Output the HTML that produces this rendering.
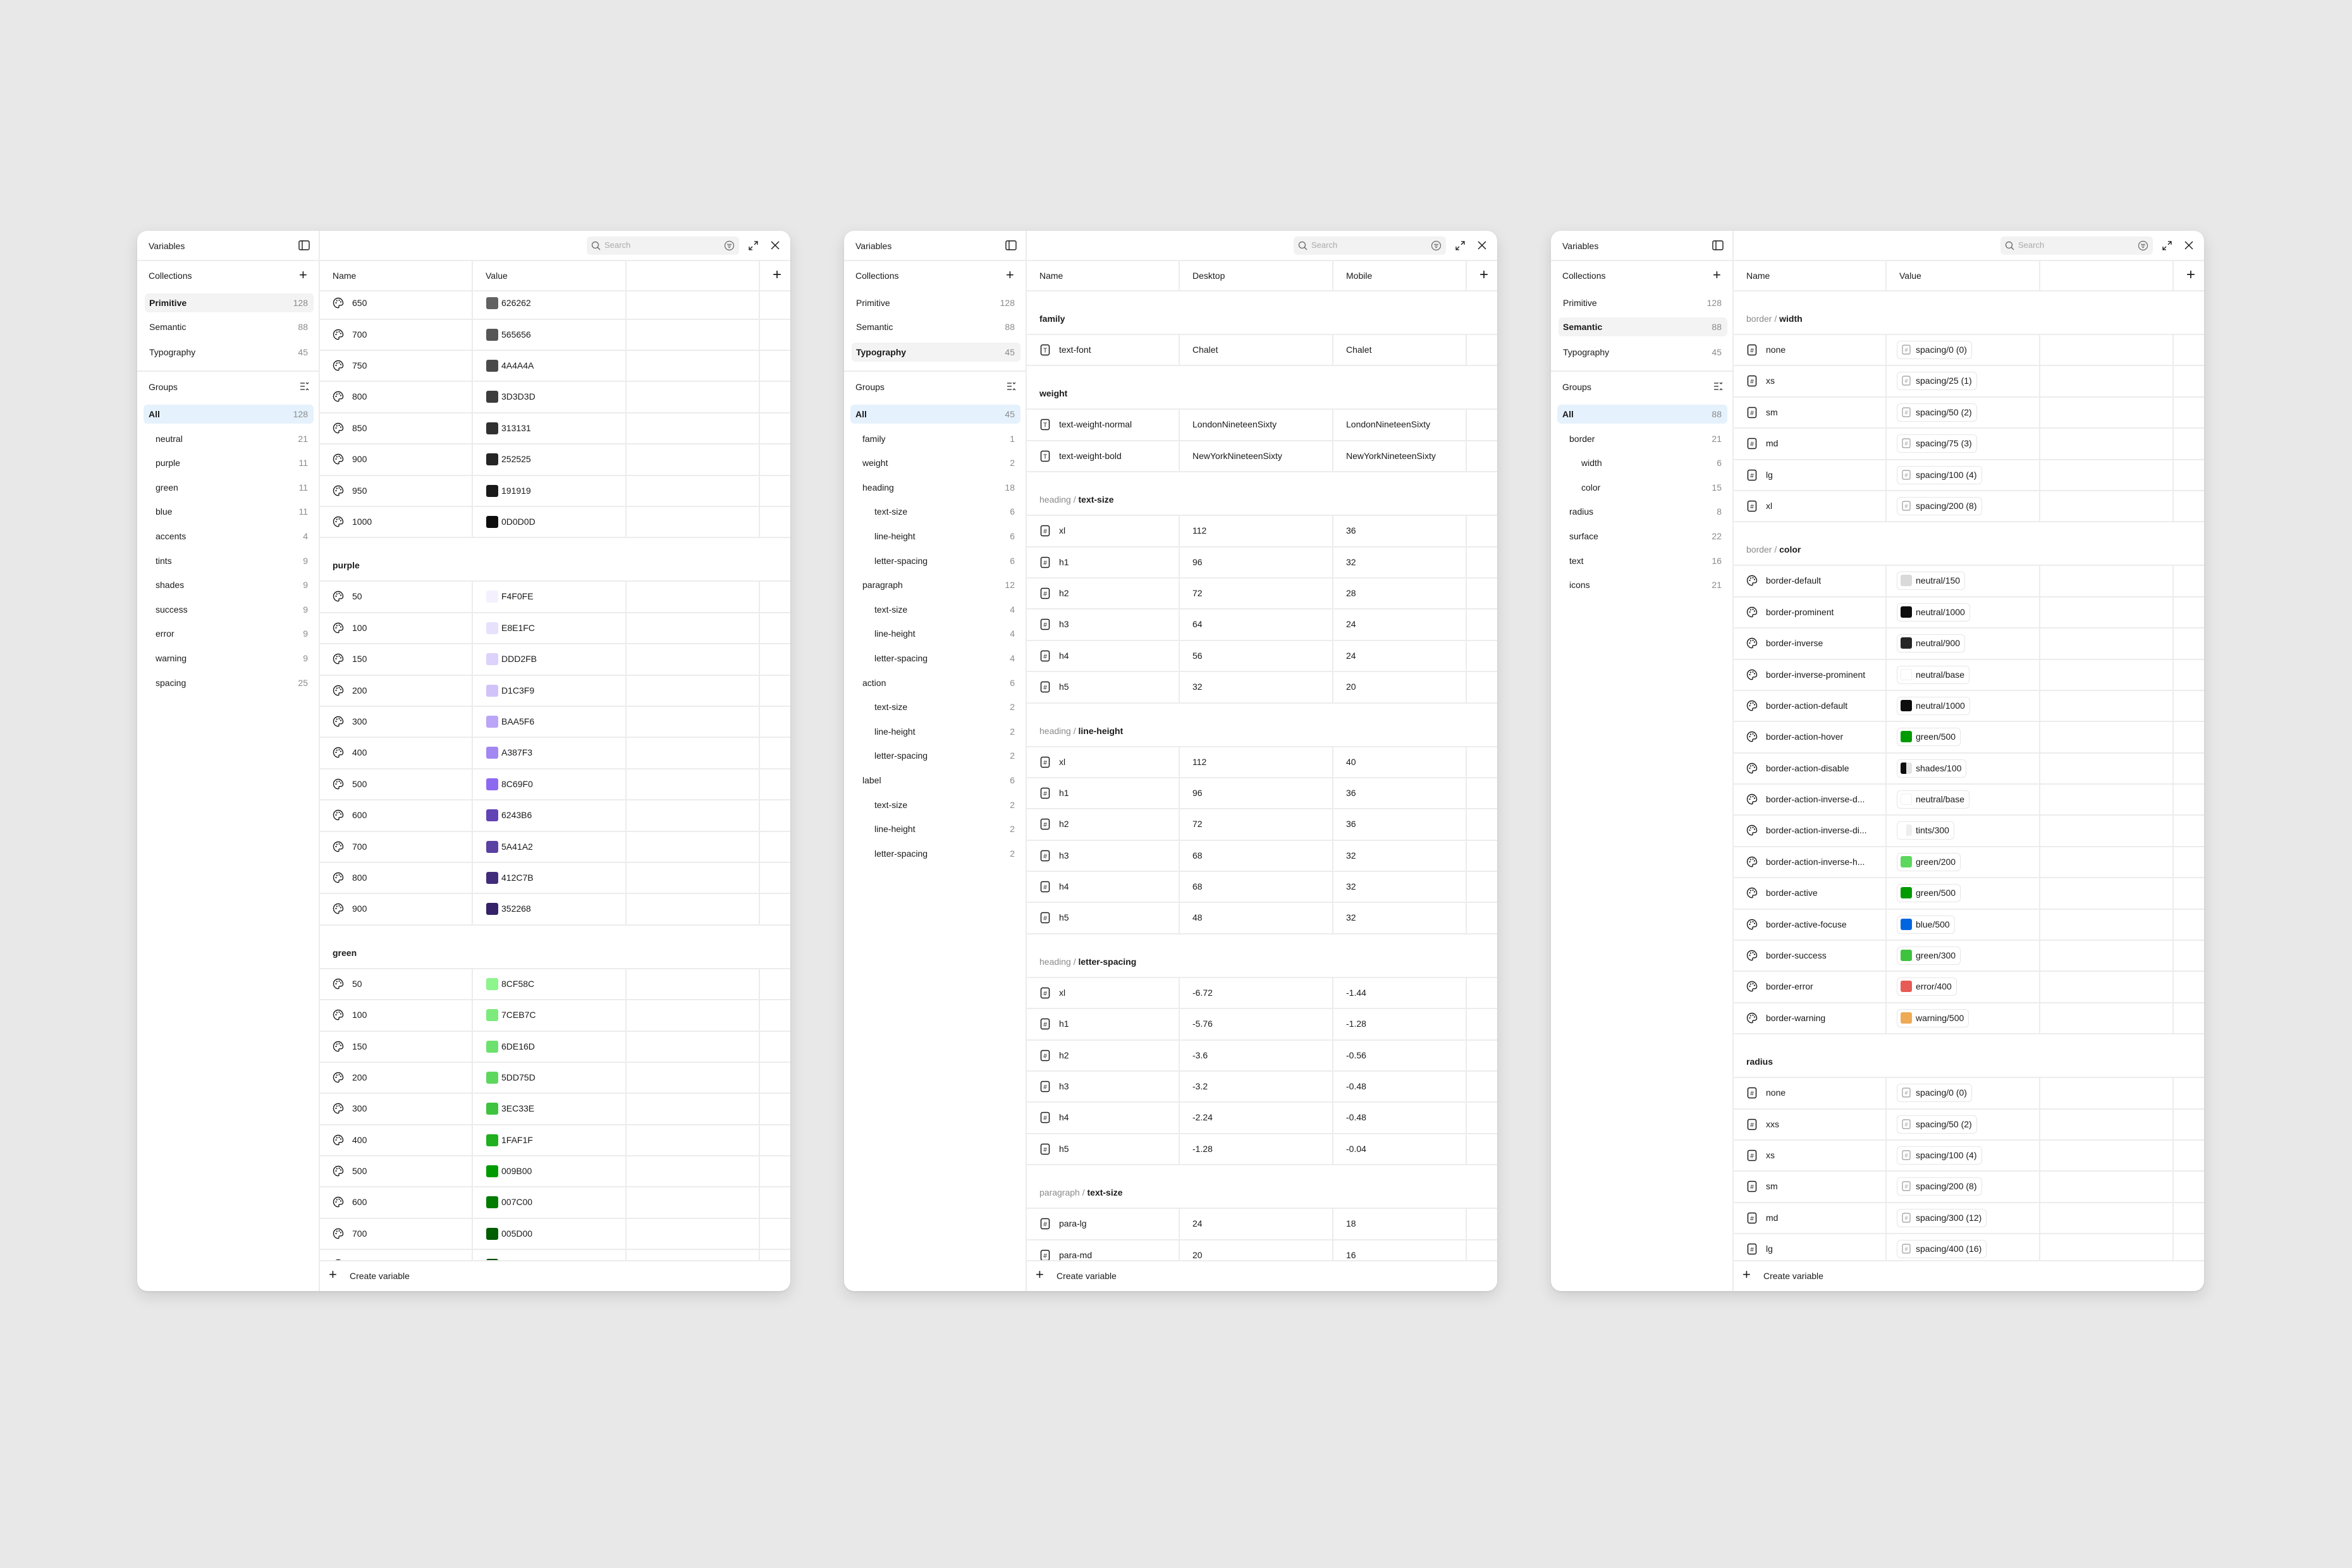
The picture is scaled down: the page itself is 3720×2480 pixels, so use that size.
<!DOCTYPE html>
<html><head><meta charset="utf-8">
<style>
*{box-sizing:border-box;margin:0;padding:0}
body{width:3720px;height:2480px;background:#e8e8e8;font-family:"Liberation Sans",sans-serif;color:#1a1a1a;font-size:14px;position:relative;overflow:hidden}
svg{display:block}
.panel{position:absolute;top:365px;width:1033px;height:1677px;background:#fff;border-radius:16px;box-shadow:0 8px 24px rgba(0,0,0,.12),0 1px 3px rgba(0,0,0,.08);overflow:hidden}
.side{position:absolute;left:0;top:0;width:289px;height:100%;border-right:2px solid #ececec}
.abs{position:absolute}
.hline{position:absolute;left:0;right:0;height:2px;background:#ececec}
.sitem{position:absolute;left:12px;width:267px;height:30px;border-radius:6px;line-height:30px;font-size:14px}
.sitem .c{position:absolute;right:9px;top:0;color:#8a8a8a}
.main{position:absolute;left:289px;top:0;right:0;height:100%}
.list{position:absolute;left:0;right:0;top:96px;height:1532px;overflow:hidden}
.row{position:relative;height:49.4px;border-bottom:2px solid #ececec}
.cell{position:absolute;top:0;height:100%;border-right:2px solid #ececec;line-height:47px;white-space:nowrap;overflow:hidden}
.ghead{position:relative;height:69px;border-bottom:2px solid #ececec}
.ghead span.t{position:absolute;left:20px;bottom:16px;font-size:14px;font-weight:bold}
.ghead .g{color:#8a8a8a;font-weight:normal}
.sw{position:absolute;top:14px;width:19px;height:19px;border-radius:3px}
.chip{position:absolute;top:9px;height:29px;border:1.5px solid #e6e6e6;border-radius:6px;line-height:26px;padding:0 7px 0 29px}
.chip .sw{top:4px;left:5px;width:18px;height:18px}
.ico{position:absolute;left:20px;top:14px;display:block}
</style></head><body>
<script>
const PAL='<svg width="18" height="19" viewBox="0 0 18 19"><path d="M9 1.5C4.8 1.5 1.5 4.8 1.5 9s3.3 7.7 7.2 7.7c1.2 0 1.6-.8 1.3-1.7-.4-1 .2-2.2 1.5-2.2h2c1.6 0 3-1.3 3-3.2 0-4.3-3.4-8.1-7.5-8.1z" fill="none" stroke="#1a1a1a" stroke-width="1.4"/><circle cx="5.5" cy="9" r="1.1" fill="#1a1a1a"/><circle cx="6.8" cy="5.5" r="1.1" fill="#1a1a1a"/><circle cx="10.5" cy="4.8" r="1.1" fill="#1a1a1a"/><circle cx="13" cy="7.5" r="1.1" fill="#1a1a1a"/></svg>';
const HASH='<svg width="18" height="19" viewBox="0 0 18 19"><rect x="2.5" y="1.5" width="13" height="16" rx="2.5" fill="none" stroke="#1a1a1a" stroke-width="1.5"/><text x="9" y="13.5" font-size="10" text-anchor="middle" font-family="Liberation Sans" fill="#1a1a1a">#</text></svg>';
const TT='<svg width="18" height="19" viewBox="0 0 18 19"><rect x="2.5" y="1.5" width="13" height="16" rx="2.5" fill="none" stroke="#1a1a1a" stroke-width="1.5"/><text x="9" y="13.5" font-size="10" text-anchor="middle" font-family="Liberation Sans" fill="#1a1a1a">T</text></svg>';
const HASHS='<svg width="18" height="18" viewBox="0 0 18 18"><rect x="3" y="2" width="12" height="14" rx="2" fill="none" stroke="#999" stroke-width="1.2"/><text x="9" y="12.5" font-size="9" text-anchor="middle" font-family="Liberation Sans" fill="#999">#</text></svg>';
const COLS=[242,243,211];
function cells(a,b,c,icon,nameTxt){
  let h='<div class="row">';
  h+=`<div class="cell" style="left:0;width:${COLS[0]}px"><span class="ico">${icon}</span><span style="position:absolute;left:51px">${nameTxt}</span></div>`;
  h+=`<div class="cell" style="left:${COLS[0]}px;width:${COLS[1]}px">${b}</div>`;
  h+=`<div class="cell" style="left:${COLS[0]+COLS[1]}px;width:${COLS[2]}px">${c}</div>`;
  return h+'</div>';
}
function swatch(col,txt){return `<span class="sw" style="left:21px;background:#${col}"></span><span style="position:absolute;left:45px">${txt}</span>`}
function chip(sw,txt){return `<span class="chip" style="left:16px">${sw}${txt}</span>`}
function plain(t){return `<span style="position:absolute;left:20px">${t}</span>`}
function gh(g,t){return `<div class="ghead"><span class="t">${g?'<span class="g">'+g+' / </span>':''}${t}</span></div>`}
function panel(left,sel,groups,colNames,listHTML,offset){
  let h=`<div class="panel" style="left:${left}px"><div class="side">`;
  h+=`<div class="abs" style="left:18px;top:14px;font-size:14px;line-height:20px">Variables</div>`;
  h+=`<svg class="abs" style="left:255px;top:14px" width="18" height="18" viewBox="0 0 18 18"><rect x="1" y="2" width="16" height="14" rx="2" fill="none" stroke="#1a1a1a" stroke-width="1.4"/><line x1="6" y1="2" x2="6" y2="16" stroke="#1a1a1a" stroke-width="1.4"/></svg>`;
  h+=`<div class="hline" style="top:46px"></div>`;
  h+=`<div class="abs" style="left:18px;top:61px;line-height:20px">Collections</div><div class="abs" style="left:256px;top:57px;font-size:22px;line-height:26px;font-weight:300">+</div>`;
  [['Primitive',128],['Semantic',88],['Typography',45]].forEach((c,i)=>{
    const y=[114,152,192][i]-15;
    h+=`<div class="sitem" style="top:${y}px;${c[0]==sel?'background:#f3f3f3;font-weight:bold':''}"><span style="margin-left:7px">${c[0]}</span><span class="c" style="font-weight:normal">${c[1]}</span></div>`;
  });
  h+=`<div class="hline" style="top:221px"></div>`;
  h+=`<div class="abs" style="left:18px;top:237px;line-height:20px">Groups</div>`;
  h+=`<svg class="abs" style="left:257px;top:238px" width="16" height="16" viewBox="0 0 16 16" stroke="#1a1a1a" stroke-width="1.2" fill="none"><line x1="1" y1="3" x2="8" y2="3"/><line x1="1" y1="8" x2="8" y2="8"/><line x1="1" y1="13" x2="8" y2="13"/><path d="M10 2l2 2 2-2M10 14l2-2 2 2"/></svg>`;
  groups.forEach((g,i)=>{
    const y=290+i*38.6-15;
    const ind=g[2]==0?8:(g[2]==1?17:36);
    h+=`<div class="sitem" style="left:${i==0?10:12}px;width:${i==0?269:267}px;top:${y}px;${i==0?'background:#e5f2fd;font-weight:bold':''}"><span style="margin-left:${ind}px">${g[0]}</span><span class="c" style="font-weight:normal">${g[1]}</span></div>`;
  });
  h+='</div><div class="main">';
  h+=`<div class="abs" style="left:422px;top:9px;width:241px;height:29px;background:#f2f2f2;border-radius:6px"><svg class="abs" style="left:7px;top:7px" width="15" height="15" viewBox="0 0 15 15" fill="none" stroke="#666" stroke-width="1.3"><circle cx="6.5" cy="6.5" r="5"/><line x1="10" y1="10" x2="14" y2="14"/></svg><span class="abs" style="left:28px;top:6px;color:#aaa;font-size:13px">Search</span><svg class="abs" style="left:217px;top:6px" width="17" height="17" viewBox="0 0 17 17" fill="none" stroke="#666" stroke-width="1.2"><circle cx="8.5" cy="8.5" r="7"/><line x1="5" y1="6.5" x2="12" y2="6.5"/><line x1="6" y1="9" x2="11" y2="9"/><line x1="7" y1="11.5" x2="10" y2="11.5"/></svg></div>`;
  h+=`<svg class="abs" style="left:677px;top:15px" width="17" height="17" viewBox="0 0 17 17" fill="none" stroke="#1a1a1a" stroke-width="1.3"><path d="M10 2h5v5M15 2l-5 5M7 15H2v-5M2 15l5-5"/></svg>`;
  h+=`<svg class="abs" style="left:712px;top:15px" width="16" height="16" viewBox="0 0 16 16" stroke="#1a1a1a" stroke-width="1.4"><line x1="2" y1="2" x2="14" y2="14"/><line x1="14" y1="2" x2="2" y2="14"/></svg>`;
  h+=`<div class="hline" style="top:46px"></div>`;
  h+=`<div class="abs" style="left:0;right:0;top:48px;height:48px;border-bottom:2px solid #ececec">`;
  h+=`<div class="cell" style="left:0;width:242px;line-height:46px"><span style="margin-left:20px">${colNames[0]}</span></div><div class="cell" style="left:242px;width:243px;line-height:46px"><span style="margin-left:20px">${colNames[1]}</span></div><div class="cell" style="left:485px;width:211px;line-height:46px"><span style="margin-left:20px">${colNames[2]||''}</span></div><div class="abs" style="right:14px;top:8px;font-size:24px;font-weight:300">+</div></div>`;
  h+=`<div class="list"><div style="position:relative;top:${offset}px">${listHTML}</div></div>`;
  h+=`<div class="abs" style="left:0;right:0;top:1628px;height:49px;border-top:2px solid #ececec"><span class="abs" style="left:14px;top:8px;font-size:22px;font-weight:300">+</span><span class="abs" style="left:47px;top:15px">Create variable</span></div>`;
  h+='</div></div>';
  document.write(h);
}
let L='';
[['650','626262'],['700','565656'],['750','4A4A4A'],['800','3D3D3D'],['850','313131'],['900','252525'],['950','191919'],['1000','0D0D0D']].forEach(r=>L+=cells(0,swatch(r[1],r[1]),'',PAL,r[0]));
L+=gh('','purple');
[['50','F4F0FE'],['100','E8E1FC'],['150','DDD2FB'],['200','D1C3F9'],['300','BAA5F6'],['400','A387F3'],['500','8C69F0'],['600','6243B6'],['700','5A41A2'],['800','412C7B'],['900','352268']].forEach(r=>L+=cells(0,swatch(r[1],r[1]),'',PAL,r[0]));
L+=gh('','green');
[['50','8CF58C'],['100','7CEB7C'],['150','6DE16D'],['200','5DD75D'],['300','3EC33E'],['400','1FAF1F'],['500','009B00'],['600','007C00'],['700','005D00'],['800','004A00'],['900','003A00']].forEach(r=>L+=cells(0,swatch(r[1],r[1]),'',PAL,r[0]));
panel(217,'Primitive',[['All',128,0],['neutral',21,1],['purple',11,1],['green',11,1],['blue',11,1],['accents',4,1],['tints',9,1],['shades',9,1],['success',9,1],['error',9,1],['warning',9,1],['spacing',25,1]],['Name','Value',''],L,-4.7);
L=gh('','family')+cells(0,plain('Chalet'),plain('Chalet'),TT,'text-font');
L+=gh('','weight')+cells(0,plain('LondonNineteenSixty'),plain('LondonNineteenSixty'),TT,'text-weight-normal')+cells(0,plain('NewYorkNineteenSixty'),plain('NewYorkNineteenSixty'),TT,'text-weight-bold');
const hs=['xl','h1','h2','h3','h4','h5'];
L+=gh('heading','text-size');[[112,36],[96,32],[72,28],[64,24],[56,24],[32,20]].forEach((v,i)=>L+=cells(0,plain(v[0]),plain(v[1]),HASH,hs[i]));
L+=gh('heading','line-height');[[112,40],[96,36],[72,36],[68,32],[68,32],[48,32]].forEach((v,i)=>L+=cells(0,plain(v[0]),plain(v[1]),HASH,hs[i]));
L+=gh('heading','letter-spacing');[['-6.72','-1.44'],['-5.76','-1.28'],['-3.6','-0.56'],['-3.2','-0.48'],['-2.24','-0.48'],['-1.28','-0.04']].forEach((v,i)=>L+=cells(0,plain(v[0]),plain(v[1]),HASH,hs[i]));
L+=gh('paragraph','text-size');[['para-lg',24,18],['para-md',20,16],['para-sm',16,14]].forEach(v=>L+=cells(0,plain(v[1]),plain(v[2]),HASH,v[0]));
panel(1335,'Typography',[['All',45,0],['family',1,1],['weight',2,1],['heading',18,1],['text-size',6,2],['line-height',6,2],['letter-spacing',6,2],['paragraph',12,1],['text-size',4,2],['line-height',4,2],['letter-spacing',4,2],['action',6,1],['text-size',2,2],['line-height',2,2],['letter-spacing',2,2],['label',6,1],['text-size',2,2],['line-height',2,2],['letter-spacing',2,2]],['Name','Desktop','Mobile'],L,0);
const hs3=`<span class="sw" style="background:none">${HASHS}</span>`;
function csw(c){return `<span class="sw" style="background:${c}"></span>`}
L=gh('border','width');
[['none','spacing/0 (0)'],['xs','spacing/25 (1)'],['sm','spacing/50 (2)'],['md','spacing/75 (3)'],['lg','spacing/100 (4)'],['xl','spacing/200 (8)']].forEach(v=>L+=cells(0,chip(hs3,v[1]),'',HASH,v[0]));
L+=gh('border','color');
[['border-default','#d9d9d9','neutral/150'],['border-prominent','#0d0d0d','neutral/1000'],['border-inverse','#252525','neutral/900'],['border-inverse-prominent','#fff;border:1px solid #eee','neutral/base'],['border-action-default','#0d0d0d','neutral/1000'],['border-action-hover','#009b00','green/500'],['border-action-disable','linear-gradient(90deg,#0d0d0d 50%,#e4e4e4 50%)','shades/100'],['border-action-inverse-d...','#fff;border:1px solid #eee','neutral/base'],['border-action-inverse-di...','linear-gradient(90deg,#fff 50%,#eee 50%)','tints/300'],['border-action-inverse-h...','#5dd75d','green/200'],['border-active','#009b00','green/500'],['border-active-focuse','#0066e0','blue/500'],['border-success','#3ec33e','green/300'],['border-error','#e85a55','error/400'],['border-warning','#eeaa55','warning/500']].forEach(v=>L+=cells(0,chip(csw(v[1]),v[2]),'',PAL,v[0]));
L+=gh('','radius');
[['none','spacing/0 (0)'],['xxs','spacing/50 (2)'],['xs','spacing/100 (4)'],['sm','spacing/200 (8)'],['md','spacing/300 (12)'],['lg','spacing/400 (16)'],['xl','spacing/600 (24)']].forEach(v=>L+=cells(0,chip(hs3,v[1]),'',HASH,v[0]));
panel(2453,'Semantic',[['All',88,0],['border',21,1],['width',6,2],['color',15,2],['radius',8,1],['surface',22,1],['text',16,1],['icons',21,1]],['Name','Value',''],L,0);
</script>
</body></html>
